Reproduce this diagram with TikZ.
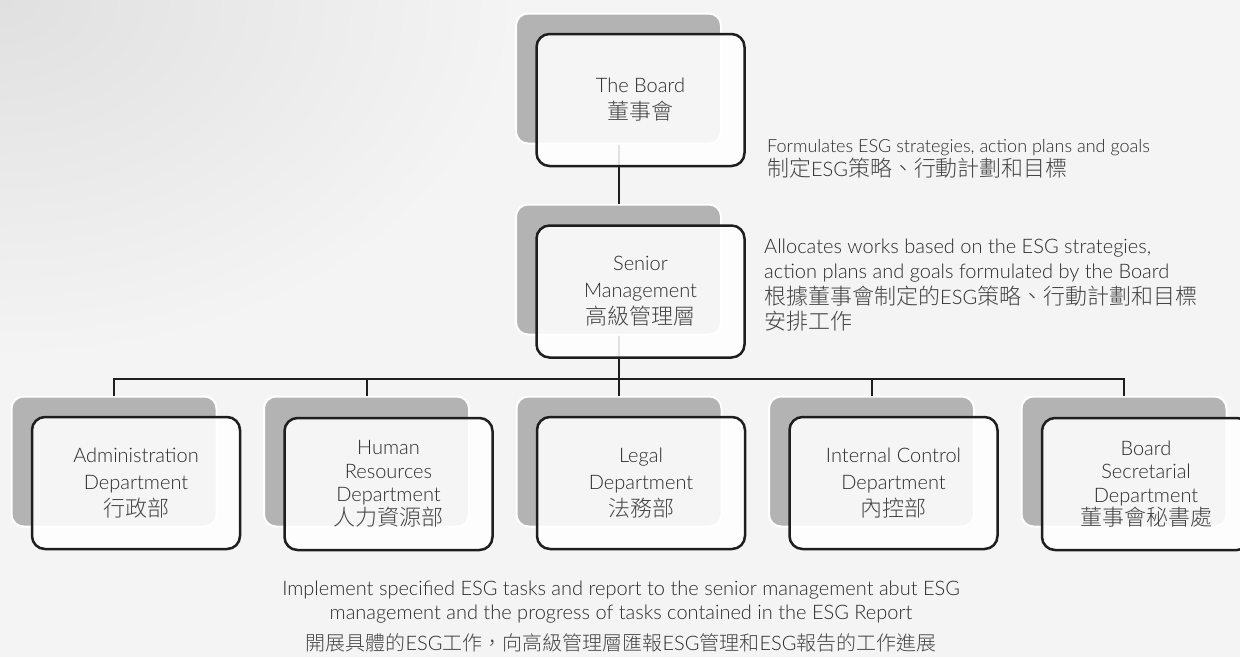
\documentclass[tikz,border=0pt]{standalone}
\usepackage{fontspec}
\setmainfont{Lato Light}
\newfontfamily\cjkf[Scale=1.1,Color=444444]{Noto Sans CJK TC Light}
\newfontfamily\cjkbf[Scale=1.22,Color=444444]{Noto Sans CJK TC Light}
\newfontfamily\cjksf[Color=444444]{Noto Sans CJK TC Light}
\newcommand\cjk{\cjkf}
\newcommand\cjkb{\cjkbf}
\newcommand\cjks{\cjksf}
\definecolor{bg}{HTML}{F4F4F4}
\definecolor{bgd}{HTML}{E0E0E0}
\definecolor{backgray}{HTML}{B3B3B3}
\definecolor{frameblk}{HTML}{1E1E1E}
\definecolor{txt}{HTML}{2A2A2A}
\tikzset{
  backbox/.style={draw=white, line width=2pt, fill=backgray, rounded corners=12pt,
    minimum width=205pt, minimum height=130pt, inner sep=0pt},
  frontbox/.style={draw=frameblk, line width=2.5pt, fill=white, fill opacity=0.87,
    text opacity=1, rounded corners=13pt, minimum width=208pt, minimum height=132pt,
    inner sep=0pt, align=center, text=txt, font=\fontsize{20}{27}\selectfont},
  fourline/.style={font=\fontsize{20}{23.5}\selectfont},
  conn/.style={draw=frameblk, line width=2pt},
  note/.style={inner sep=0pt, text=txt}
}
\begin{document}
\begin{tikzpicture}[x=1pt,y=-1pt]
\useasboundingbox (0,0) rectangle (1240,657);
\clip (0,0) rectangle (1240,657);
\fill[bg] (0,0) rectangle (1240,657);
\shade[inner color=bgd, outer color=bg] (0,0) ellipse (520 and 360);
% back boxes
\node[backbox] (bB) at (618.5,78.5) {};
\node[backbox] (bS) at (618.5,269.5) {};
\node[backbox] (b1) at (114,461.5) {};
\node[backbox] (b2) at (366.5,461.5) {};
\node[backbox] (b3) at (619,461.5) {};
\node[backbox] (b4) at (871.5,461.5) {};
\node[backbox] (b5) at (1124,461.5) {};
% connectors
\draw[conn] (bB.south) -- (bS.north);
\path (bS.south) ++(0,43) coordinate (bus);
\draw[conn] (bS.south) -- (bus);
\draw[conn] (b1.north) |- (bus) -| (b5.north);
\draw[conn] (b2.north) -- (b2.north |- bus);
\draw[conn] (b3.north) -- (b3.north |- bus);
\draw[conn] (b4.north) -- (b4.north |- bus);
% front boxes
\node[frontbox] (fB) at (640.5,100) {The Board\\{\cjk 董事會}};
\node[frontbox] (fS) at (640.5,291.5) {Senior\\Management\\{\cjk 高級管理層}};
\node[frontbox] (f1) at (136,483) {Administration\\Department\\{\cjk 行政部}};
\node[frontbox, fourline] (f2) at (388.5,484) {Human\\Resources\\Department\\{\cjk 人力資源部}};
\node[frontbox] (f3) at (641,483) {Legal\\Department\\{\cjk 法務部}};
\node[frontbox] (f4) at (893.5,483) {Internal Control\\Department\\{\cjk 內控部}};
\node[frontbox, fourline] (f5) at (1146,484) {Board\\Secretarial\\Department\\{\cjk 董事會秘書處}};
% notes
\node[note, anchor=west, align=left, font=\fontsize{18}{24}\selectfont] (nB) at (767,159)
  {Formulates ESG strategies, action plans and goals\\{\cjkb 制定}{\fontsize{20}{24}\selectfont ESG}{\cjkb 策略、行動計劃和目標}};
\node[note, anchor=west, align=left, font=\fontsize{20}{25.5}\selectfont] (nS) at (764,285)
  {Allocates works based on the ESG strategies,\\action plans and goals formulated by the Board\\{\cjk 根據董事會制定的}ESG{\cjk 策略、行動計劃和目標}\\{\cjk 安排工作}};
\node[note, align=center, font=\fontsize{20}{24}\selectfont] (nD) at (621,602)
  {Implement specified ESG tasks and report to the senior management abut ESG\\management and the progress of tasks contained in the ESG Report};
\node[note, align=center, font=\fontsize{20}{24}\selectfont] (nD2) at (621,643)
  {{\cjks 開展具體的}ESG{\cjks 工作，向高級管理層匯報}ESG{\cjks 管理和}ESG{\cjks 報告的工作進展}};
\end{tikzpicture}
\end{document}
